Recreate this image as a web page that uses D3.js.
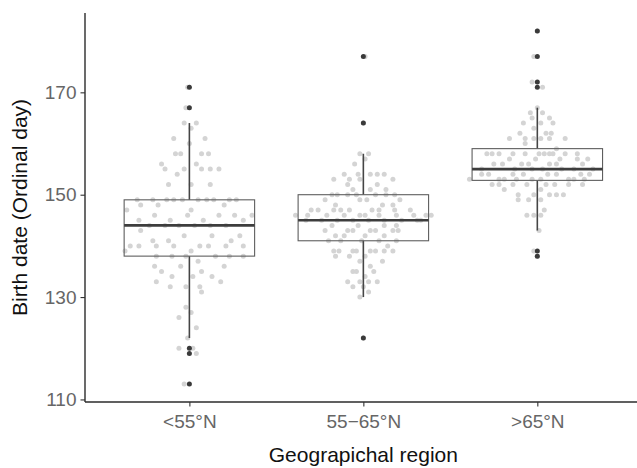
<!DOCTYPE html>
<html><head><meta charset="utf-8">
<script src="https://cdn.jsdelivr.net/npm/d3@7"></script>
<style>html,body{margin:0;padding:0;background:#fff;}svg{display:block;font-family:"Liberation Sans",Arial,sans-serif;}</style>
</head><body>
<script>
// ---- data ----
const categories = ["<55°N", "55\u221265°N", ">65°N"];
const yTicks = [110, 130, 150, 170];
// box statistics
const q1 = [138, 141, 152.8];
const medians = [144, 145, 155];
const q3 = [149, 150, 159];
const whiskerLow = [122, 130, 143];
const whiskerHigh = [164, 158, 167];
const outliers = [[171, 167, 120, 119, 113], [177, 164, 122], [182, 177, 172, 171, 139, 138]];
// individual observations: [birth day, horizontal jitter in category units]
const lowLat = [[171,-0.01],[167,-0.02],[164,-0.03],[164,0.04],[163,0.01],[161,-0.09],[161,0.09],[160,0.0],
 [158,-0.08],[158,-0.05],[158,0.07],[158,0.11],[156,-0.16],[156,0.04],
 [155,-0.14],[155,-0.03],[155,0.07],[155,0.12],[155,0.17],[154,-0.07],[152,-0.12],[152,0.01],[152,0.12],
 [149,-0.30],[149,-0.21],[149,-0.13],[149,-0.09],[149,-0.04],[149,0.05],[149,0.10],[149,0.14],[149,0.23],[149,0.27],
 [148,-0.28],[148,-0.18],[148,0.20],[147,-0.36],[147,0.01],
 [146,-0.20],[146,-0.01],[146,0.17],[146,0.26],[146,0.36],[145,-0.29],[145,-0.11],[145,0.08],[145,0.31],
 [144,-0.23],[144,-0.14],[144,-0.06],[144,0.03],[144,0.12],[144,0.21],[143,-0.28],
 [142,-0.03],[142,0.13],[142,0.29],[141,-0.21],[141,-0.12],[141,0.24],
 [140,-0.34],[140,-0.29],[140,-0.19],[140,-0.09],[140,0.06],[140,0.11],[140,0.21],[140,0.31],
 [139,-0.37],[139,0.01],[138,-0.19],[138,-0.10],[138,-0.02],[138,0.15],[138,0.23],[138,0.31],
 [137,0.05],[136,-0.20],[136,-0.05],[136,0.20],[135,-0.16],[135,0.07],[134,-0.10],[134,0.02],[134,0.13],
 [133,-0.19],[133,0.18],[132,-0.11],[132,-0.02],[132,0.06],[131,0.07],[128,-0.02],[127,0.01],[126,-0.06],
 [124,0.04],[122,-0.01],[120,-0.06],[120,0.02],[119,0.04],[113,-0.03]];
const midLat = [[177,0.01],[164,0.0],[158,-0.02],[158,0.03],[157,0.01],[156,-0.05],
 [154,-0.11],[154,-0.03],[154,0.04],[154,0.08],[154,0.12],[153,-0.17],[153,-0.08],[153,-0.02],[153,0.17],
 [152,-0.09],[152,0.08],[151,-0.06],[151,0.04],[151,0.13],
 [150,-0.18],[150,-0.15],[150,-0.09],[150,-0.04],[150,0.07],[150,0.13],[150,0.18],
 [149,-0.22],[149,-0.02],[149,0.02],[149,0.21],[148,-0.16],[148,0.11],[148,0.17],
 [147,-0.30],[147,-0.26],[147,-0.17],[147,-0.13],[147,-0.08],[147,0.05],[147,0.09],[147,0.18],[147,0.27],
 [146,-0.39],[146,-0.32],[146,-0.21],[146,-0.11],[146,-0.02],[146,0.01],[146,0.09],[146,0.19],[146,0.29],[146,0.36],[146,0.39],
 [145,-0.33],[145,-0.24],[145,-0.15],[145,-0.06],[145,0.03],[145,0.12],[145,0.22],[145,0.31],[145,0.33],
 [144,-0.18],[144,-0.03],[144,0.12],[144,0.19],
 [143,-0.22],[143,-0.09],[143,-0.06],[143,0.04],[143,0.07],[143,0.17],[143,0.20],
 [142,-0.16],[142,-0.11],[142,0.01],[142,0.12],[141,-0.20],[141,-0.13],[141,-0.01],[141,0.09],[141,0.19],
 [140,0.14],[139,-0.17],[139,-0.14],[139,-0.06],[139,-0.04],[139,0.04],[139,0.07],[139,0.12],[139,0.17],
 [138,-0.16],[138,-0.08],[138,0.01],[137,-0.02],[137,0.11],[136,0.04],[135,-0.06],[135,-0.04],[135,0.06],
 [134,0.01],[133,-0.09],[133,-0.02],[133,0.03],[133,0.08],[132,-0.06],[132,0.0],[131,0.03],[130,-0.02],[122,0.0]];
const highLat = [[182,0.0],[177,-0.02],[172,-0.03],[171,0.03],[167,0.0],[166,-0.04],[166,0.03],[165,-0.03],[165,0.07],
 [164,-0.08],[164,0.02],[164,0.09],[163,-0.02],[162,-0.10],[162,0.05],[162,0.08],
 [161,-0.16],[161,-0.07],[161,-0.02],[161,0.02],[161,0.07],[161,0.16],[160,-0.07],[159,0.11],
 [158,-0.29],[158,-0.26],[158,-0.22],[158,-0.14],[158,-0.07],[158,0.01],[158,0.04],[158,0.07],[158,0.09],[158,0.16],[158,0.23],
 [157,-0.16],[157,-0.01],[157,0.13],[157,0.23],[157,0.29],
 [156,-0.25],[156,-0.20],[156,-0.09],[156,-0.05],[156,0.07],[156,0.11],[156,0.26],
 [155,-0.32],[155,-0.13],[155,-0.03],[155,0.03],[155,0.14],[155,0.21],[155,0.32],
 [154,-0.32],[154,-0.28],[154,-0.14],[154,-0.08],[154,0.06],[154,0.11],[154,0.25],[154,0.30],
 [153,-0.39],[153,-0.22],[153,-0.19],[153,-0.12],[153,-0.03],[153,0.02],[153,0.18],[153,0.21],[153,0.27],
 [152,-0.26],[152,-0.22],[152,-0.14],[152,-0.06],[152,0.05],[152,0.10],[152,0.18],[152,0.26],
 [151,-0.19],[151,0.02],[150,-0.11],[150,-0.02],[150,0.07],[150,0.11],[150,0.15],
 [149,-0.11],[149,-0.05],[149,0.02],[147,0.04],[146,-0.06],[146,-0.02],[146,0.02],[143,0.01],[139,-0.02],[138,0.0]];
const groups = [lowLat, midLat, highLat];

// ---- layout ----
const W = 637, H = 468;
const padL = 85, padR = 641.7, padT = 13, padB = 402;

const svg = d3.select("body").append("svg").attr("width", W).attr("height", H);

const x = d3.scalePoint().domain(categories).range([padL, padR]).padding(0.6);
const step = x.step();
const y = d3.scaleLinear().domain([109.5, 185.5]).range([padB, padT]);

const plot = svg.append("g");

// jittered points
categories.forEach((c, i) => {
  plot.append("g").selectAll("circle").data(groups[i]).join("circle")
    .attr("cx", d => x(c) + d[1] * step)
    .attr("cy", d => y(d[0]))
    .attr("r", 2.5)
    .attr("fill", "#d4d4d4");
});

// boxplots
const boxW = 0.75 * step;
const stroke = "#454545";
categories.forEach((c, i) => {
  const g = plot.append("g");
  const cx = x(c);
  g.append("line").attr("x1", cx).attr("x2", cx).attr("y1", y(q3[i])).attr("y2", y(whiskerHigh[i]))
    .attr("stroke", stroke).attr("stroke-width", 1.6);
  g.append("line").attr("x1", cx).attr("x2", cx).attr("y1", y(q1[i])).attr("y2", y(whiskerLow[i]))
    .attr("stroke", stroke).attr("stroke-width", 1.6);
  g.append("rect").attr("x", cx - boxW / 2).attr("width", boxW)
    .attr("y", y(q3[i])).attr("height", y(q1[i]) - y(q3[i]))
    .attr("fill", "none").attr("stroke", "#5e5e5e").attr("stroke-width", 1.1);
  g.append("line").attr("x1", cx - boxW / 2).attr("x2", cx + boxW / 2)
    .attr("y1", y(medians[i])).attr("y2", y(medians[i]))
    .attr("stroke", "#3d3d3d").attr("stroke-width", 2.6);
  g.selectAll("circle").data(outliers[i]).join("circle")
    .attr("cx", cx).attr("cy", d => y(d)).attr("r", 2.5).attr("fill", "#3a3a3a");
});

// axes
const yAxis = svg.append("g").attr("transform", `translate(${padL},0)`)
  .call(d3.axisLeft(y).tickValues(yTicks).tickSize(4.5).tickPadding(4));
yAxis.select(".domain").attr("d", `M0,${padT}V${padB}`);
const xAxis = svg.append("g").attr("transform", `translate(0,${padB})`)
  .call(d3.axisBottom(x).tickSize(4.5).tickPadding(8));
xAxis.select(".domain").attr("d", `M${padL},0H${W + 5}`);
[yAxis, xAxis].forEach(a => {
  a.select(".domain").attr("stroke", "#2b2b2b").attr("stroke-width", 1.4);
  a.selectAll(".tick line").attr("stroke", "#333").attr("stroke-width", 1.1);
  a.selectAll(".tick text").attr("fill", "#666").attr("font-size", 19)
    .attr("font-family", "'Liberation Sans', Arial, sans-serif");
});

// titles
svg.append("text").attr("x", (padL + padR) / 2).attr("y", 462)
  .attr("text-anchor", "middle").attr("font-size", 21).attr("fill", "#111")
  .text("Geograpichal region");
svg.append("text").attr("transform", `translate(27,${(padT + padB) / 2}) rotate(-90)`)
  .attr("text-anchor", "middle").attr("font-size", 21).attr("fill", "#111")
  .text("Birth date (Ordinal day)");
</script>
</body></html>
